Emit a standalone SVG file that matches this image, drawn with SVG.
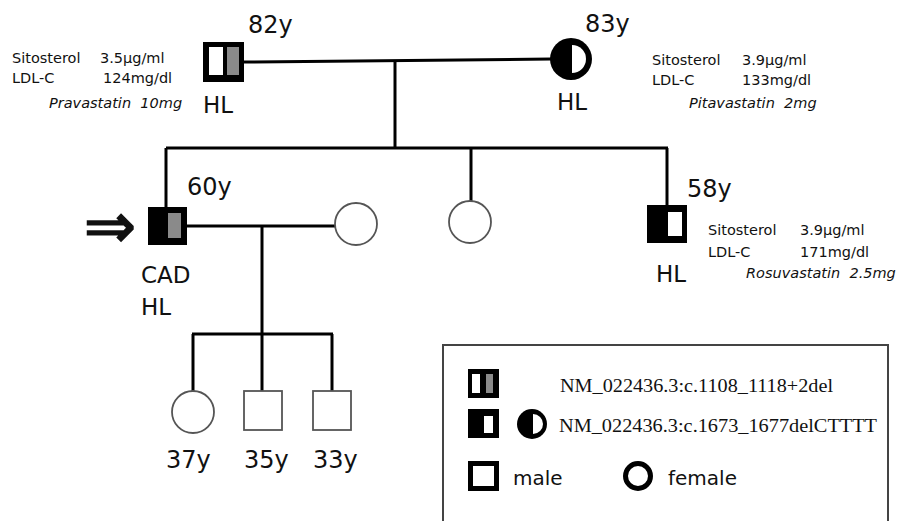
<svg xmlns="http://www.w3.org/2000/svg" width="900" height="521" viewBox="0 0 900 521">
<style>
.ln{stroke:#000;stroke-width:3;fill:none}
.thin{fill:#fff;stroke:#555;stroke-width:1.8}
.t{font-family:"DejaVu Sans",sans-serif;fill:#111}
.age{font-size:24px}
.hl{font-size:23px}
.lab{font-size:14.5px}
.drug{font-size:14.5px;font-style:italic}
.ser{font-family:"Liberation Serif",serif;font-size:18px;fill:#111}
.gray{fill:#8a8a8a}
.wh{fill:#fff}
</style>
<rect width="900" height="521" fill="#fff"/>
<g id="connectors">
<line class="ln" x1="244" y1="62" x2="551" y2="59"/>
<line class="ln" x1="395" y1="61" x2="395" y2="148"/>
<line class="ln" x1="166" y1="148" x2="668" y2="148"/>
<line class="ln" x1="166" y1="148" x2="166" y2="207"/>
<line class="ln" x1="471" y1="148" x2="471" y2="202"/>
<line class="ln" x1="667" y1="148" x2="667" y2="205"/>
<line class="ln" x1="187" y1="226" x2="335" y2="226"/>
<line class="ln" x1="262" y1="226" x2="262" y2="334"/>
<line class="ln" x1="192" y1="334" x2="333" y2="334"/>
<line class="ln" x1="193" y1="334" x2="193" y2="391"/>
<line class="ln" x1="262" y1="334" x2="262" y2="391"/>
<line class="ln" x1="332" y1="334" x2="332" y2="391"/>
</g>
<g id="grandfather">
<rect x="203" y="42" width="41" height="40" fill="#000"/>
<rect class="wh" x="209" y="47" width="14" height="28"/>
<rect class="gray" x="227" y="47" width="12" height="28"/>
<text class="t age" x="248" y="33">82y</text>
<text class="t hl" x="203" y="113">HL</text>
<text class="t lab" x="12" y="63">Sitosterol</text>
<text class="t lab" x="100" y="63">3.5µg/ml</text>
<text class="t lab" x="12" y="83">LDL-C</text>
<text class="t lab" x="103" y="83">124mg/dl</text>
<text class="t drug" x="49" y="108" xml:space="preserve">Pravastatin  10mg</text>
</g>
<g id="grandmother">
<circle cx="571" cy="59" r="21" fill="#000"/>
<path d="M572 45 A14 14 0 0 1 572 73 Z" fill="#fff"/>
<text class="t age" x="585" y="32">83y</text>
<text class="t hl" x="557" y="110">HL</text>
<text class="t lab" x="652" y="65">Sitosterol</text>
<text class="t lab" x="742" y="65">3.9µg/ml</text>
<text class="t lab" x="652" y="85">LDL-C</text>
<text class="t lab" x="742" y="85">133mg/dl</text>
<text class="t drug" x="689" y="108" xml:space="preserve">Pitavastatin  2mg</text>
</g>
<g id="proband">
<rect x="148" y="207" width="39" height="38" fill="#000"/>
<rect class="gray" x="168" y="213" width="13" height="25"/>
<text class="t" x="84" y="247" font-size="62" stroke="#111" stroke-width="1.6">⇒</text>
<text class="t age" x="187" y="195">60y</text>
<text class="t hl" x="141" y="283">CAD</text>
<text class="t hl" x="141" y="315">HL</text>
</g>
<g id="wife"><circle class="thin" cx="356" cy="224" r="21"/></g>
<g id="sister"><circle class="thin" cx="470" cy="222" r="21"/></g>
<g id="brother">
<rect x="647" y="205" width="40" height="38" fill="#000"/>
<rect class="wh" x="668" y="212" width="14" height="24"/>
<text class="t age" x="687" y="197">58y</text>
<text class="t hl" x="656" y="282">HL</text>
<text class="t lab" x="708" y="235">Sitosterol</text>
<text class="t lab" x="800" y="235">3.9µg/ml</text>
<text class="t lab" x="708" y="257">LDL-C</text>
<text class="t lab" x="800" y="257">171mg/dl</text>
<text class="t drug" x="746" y="278" xml:space="preserve">Rosuvastatin  2.5mg</text>
</g>
<g id="child37">
<circle class="thin" cx="193" cy="412" r="21"/>
<text class="t age" x="166" y="468">37y</text>
</g>
<g id="child35">
<rect class="thin" x="244" y="391" width="38" height="39"/>
<text class="t age" x="244" y="468">35y</text>
</g>
<g id="child33">
<rect class="thin" x="313" y="391" width="38" height="39"/>
<text class="t age" x="313" y="468">33y</text>
</g>
<g id="legend">
<path d="M443 525 V345 H888 V525" fill="none" stroke="#444" stroke-width="2"/>
<rect x="468" y="369" width="31" height="29" fill="#000"/>
<rect class="wh" x="472" y="374" width="8" height="19"/>
<rect class="gray" x="486" y="374" width="7" height="19"/>
<text class="ser" x="560" y="392" textLength="273" lengthAdjust="spacingAndGlyphs">NM_022436.3:c.1108_1118+2del</text>
<rect x="468" y="409" width="31" height="29" fill="#000"/>
<rect class="wh" x="484" y="416" width="9" height="17"/>
<circle cx="532" cy="424" r="15" fill="#000"/>
<path d="M533 414 A10 10 0 0 1 533 434 Z" fill="#fff"/>
<text class="ser" x="559" y="432" textLength="318" lengthAdjust="spacingAndGlyphs">NM_022436.3:c.1673_1677delCTTTT</text>
<rect x="470.5" y="463.5" width="26" height="25" fill="#fff" stroke="#000" stroke-width="5"/>
<text class="t" x="513" y="485" font-size="20">male</text>
<circle cx="638" cy="476" r="12.5" fill="#fff" stroke="#000" stroke-width="5"/>
<text class="t" x="668" y="485" font-size="20">female</text>
</g>
</svg>
